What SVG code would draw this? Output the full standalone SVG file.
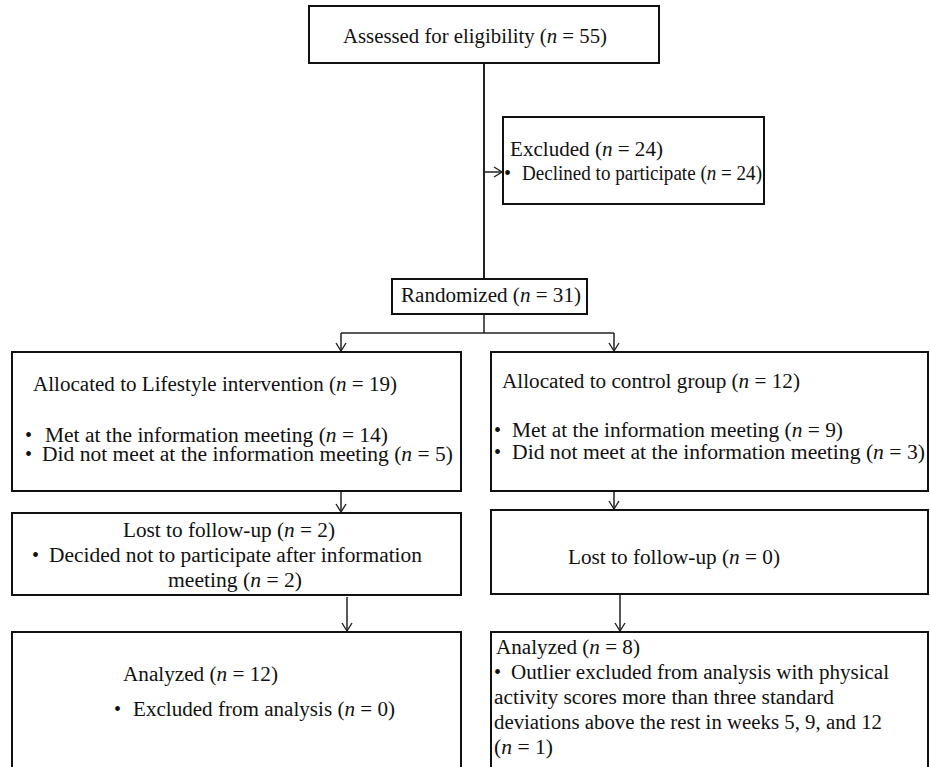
<svg xmlns="http://www.w3.org/2000/svg" width="930" height="767" viewBox="0 0 930 767">
<style>
.box{fill:#fff;stroke:#111;stroke-width:2}
.t{font-family:"Liberation Serif","Times New Roman",serif;font-size:20px;fill:#111}
.i{font-style:italic}
.c{fill:none;stroke:#222;stroke-width:1.5}
.m{fill:none;stroke:#222;stroke-width:2}
</style>
<defs>
<marker id="ah" markerUnits="userSpaceOnUse" markerWidth="20" markerHeight="20" viewBox="-10 -10 20 20" refX="0" refY="0" orient="auto">
<path d="M-8,-5 L0,0 L-8,5" fill="none" stroke="#222" stroke-width="1.4"/>
</marker>
</defs>
<g id="connectors">
<path class="m" d="M484,63 V279"/>
<path class="c" d="M484,172 H502" marker-end="url(#ah)"/>
<path class="c" d="M484,314 V333"/>
<path class="c" d="M341,333 H614"/>
<path class="c" d="M341,333 V351" marker-end="url(#ah)"/>
<path class="c" d="M614,333 V351" marker-end="url(#ah)"/>
<path class="c" d="M341,491 V512" marker-end="url(#ah)"/>
<path class="c" d="M614,491 V509" marker-end="url(#ah)"/>
<path class="c" d="M347,597 V631" marker-end="url(#ah)"/>
<path class="c" d="M620,594 V631" marker-end="url(#ah)"/>
</g>
<g id="assessed">
<rect class="box" x="309" y="6" width="350" height="57"/>
<text class="t" x="343" y="43" textLength="264" lengthAdjust="spacingAndGlyphs">Assessed for eligibility (<tspan class="i">n</tspan> = 55)</text>
</g>
<g id="excluded">
<rect class="box" x="503" y="117" width="261" height="87"/>
<text class="t" x="510" y="156" textLength="153" lengthAdjust="spacingAndGlyphs">Excluded (<tspan class="i">n</tspan> = 24)</text>
<text class="t" x="504" y="180">•</text>
<text class="t" x="522" y="180" textLength="240" lengthAdjust="spacingAndGlyphs">Declined to participate (<tspan class="i">n</tspan> = 24)</text>
</g>
<g id="randomized">
<rect class="box" x="392" y="279" width="195" height="35"/>
<text class="t" x="401" y="302" textLength="180" lengthAdjust="spacingAndGlyphs">Randomized (<tspan class="i">n</tspan> = 31)</text>
</g>
<g id="alloc-lifestyle">
<rect class="box" x="12" y="352" width="449" height="139"/>
<text class="t" x="33" y="391" textLength="364" lengthAdjust="spacingAndGlyphs">Allocated to Lifestyle intervention (<tspan class="i">n</tspan> = 19)</text>
<text class="t" x="25" y="442">•</text>
<text class="t" x="45" y="442" textLength="343" lengthAdjust="spacingAndGlyphs">Met at the information meeting (<tspan class="i">n</tspan> = 14)</text>
<text class="t" x="25" y="461">•</text>
<text class="t" x="42" y="461" textLength="411" lengthAdjust="spacingAndGlyphs">Did not meet at the information meeting (<tspan class="i">n</tspan> = 5)</text>
</g>
<g id="alloc-control">
<rect class="box" x="491" y="352" width="437" height="139"/>
<text class="t" x="502" y="388" textLength="298" lengthAdjust="spacingAndGlyphs">Allocated to control group (<tspan class="i">n</tspan> = 12)</text>
<text class="t" x="494" y="437">•</text>
<text class="t" x="512" y="437" textLength="331" lengthAdjust="spacingAndGlyphs">Met at the information meeting (<tspan class="i">n</tspan> = 9)</text>
<text class="t" x="494" y="459">•</text>
<text class="t" x="512" y="459" textLength="413" lengthAdjust="spacingAndGlyphs">Did not meet at the information meeting (<tspan class="i">n</tspan> = 3)</text>
</g>
<g id="lost-lifestyle">
<rect class="box" x="12" y="513" width="449" height="82"/>
<text class="t" x="123" y="537" textLength="212" lengthAdjust="spacingAndGlyphs">Lost to follow-up (<tspan class="i">n</tspan> = 2)</text>
<text class="t" x="32" y="562">•</text>
<text class="t" x="49" y="562" textLength="373" lengthAdjust="spacingAndGlyphs">Decided not to participate after information</text>
<text class="t" x="168" y="587" textLength="134" lengthAdjust="spacingAndGlyphs">meeting (<tspan class="i">n</tspan> = 2)</text>
</g>
<g id="lost-control">
<rect class="box" x="491" y="510" width="437" height="84"/>
<text class="t" x="568" y="564" textLength="212" lengthAdjust="spacingAndGlyphs">Lost to follow-up (<tspan class="i">n</tspan> = 0)</text>
</g>
<g id="analyzed-lifestyle">
<rect class="box" x="12" y="632" width="449" height="150"/>
<text class="t" x="123" y="681" textLength="155" lengthAdjust="spacingAndGlyphs">Analyzed (<tspan class="i">n</tspan> = 12)</text>
<text class="t" x="114" y="716">•</text>
<text class="t" x="133" y="716" textLength="262" lengthAdjust="spacingAndGlyphs">Excluded from analysis (<tspan class="i">n</tspan> = 0)</text>
</g>
<g id="analyzed-control">
<rect class="box" x="491" y="632" width="437" height="150"/>
<text class="t" x="496" y="654" textLength="144" lengthAdjust="spacingAndGlyphs">Analyzed (<tspan class="i">n</tspan> = 8)</text>
<text class="t" x="494" y="679">•</text>
<text class="t" x="511" y="679" textLength="378" lengthAdjust="spacingAndGlyphs">Outlier excluded from analysis with physical</text>
<text class="t" x="494" y="704" textLength="340" lengthAdjust="spacingAndGlyphs">activity scores more than three standard</text>
<text class="t" x="494" y="729" textLength="388" lengthAdjust="spacingAndGlyphs">deviations above the rest in weeks 5, 9, and 12</text>
<text class="t" x="494" y="754" textLength="59" lengthAdjust="spacingAndGlyphs">(<tspan class="i">n</tspan> = 1)</text>
</g>
</svg>
